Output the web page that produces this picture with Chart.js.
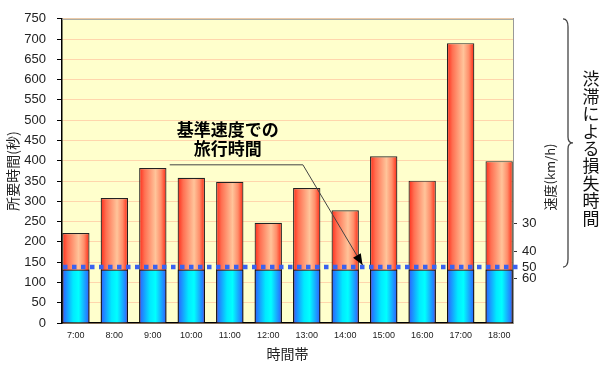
<!DOCTYPE html>
<html>
<head>
<meta charset="utf-8">
<script src="https://cdn.jsdelivr.net/npm/chart.js@4"></script>
<style>
  body { margin: 0; background: #fff; }
  #wrap { width: 602px; height: 372px; position: relative; }
</style>
</head>
<body>
<div id="wrap"><canvas id="travelChart"></canvas></div>
<script>
// time slots and travel times (sec)
const timeLabels = ['7:00', '8:00', '9:00', '10:00', '11:00', '12:00', '13:00', '14:00', '15:00', '16:00', '17:00', '18:00'];
const travelTimes = [222, 308, 382, 358, 348, 247, 333, 278, 411, 351, 690, 399];
const freeFlowTimes = [132, 132, 132, 132, 132, 132, 132, 132, 132, 132, 132, 132];
const baseTime = 138;

// speed axis (km/h) on the right, placed at the matching travel time
const speedLabels = ['30', '40', '50', '60'];
const speedTickTimes = [245, 176, 138, 109];

const CJK = "'Noto Sans CJK JP', sans-serif";
Chart.defaults.font.family = "'Liberation Sans', 'Noto Sans CJK JP', sans-serif";
Chart.defaults.color = '#222';

const redStops = [[0, '#ff2a18'], [0.2, '#ff7052'], [0.6, '#ffc49a'], [0.8, '#ff8e6a'], [1, '#ff2410']];
const blueStops = [[0, '#2d5cff'], [0.4, '#00eaff'], [0.6, '#00ffff'], [1, '#2f5cff']];

function barGradient(ctx, stops) {
  const xs = ctx.chart.scales.x;
  if (!xs || ctx.type !== 'data') return stops[2][1];
  const i = ctx.dataIndex;
  const x0 = xs.getPixelForValue(i - 0.355);
  const x1 = xs.getPixelForValue(i + 0.355);
  if (!isFinite(x0) || !isFinite(x1) || x0 === x1) return stops[2][1];
  const g = ctx.chart.ctx.createLinearGradient(x0, 0, x1, 0);
  stops.forEach(s => g.addColorStop(s[0], s[1]));
  return g;
}

const extras = {
  id: 'extras',
  beforeDraw(chart) {
    const {ctx, chartArea: a} = chart;
    ctx.save();
    ctx.fillStyle = '#ffffcc';
    ctx.fillRect(a.left, a.top, a.right - a.left, a.bottom - a.top);
    ctx.restore();
  },
  afterDatasetsDraw(chart) {
    const {ctx, chartArea: a, scales: {x, y}} = chart;
    ctx.save();
    // top border of plot
    ctx.strokeStyle = '#999';
    ctx.lineWidth = 1;
    ctx.beginPath();
    ctx.moveTo(a.left, a.top + 0.5);
    ctx.lineTo(a.right, a.top + 0.5);
    ctx.stroke();

    // reference travel time (dashed)
    const yb = y.getPixelForValue(baseTime);
    ctx.strokeStyle = '#3a62f0';
    ctx.lineWidth = 4.5;
    ctx.setLineDash([4.5, 4.5]);
    ctx.beginPath();
    ctx.moveTo(a.left + 1, yb);
    ctx.lineTo(a.right + 6, yb);
    ctx.stroke();
    ctx.setLineDash([]);

    // annotation
    ctx.fillStyle = '#000';
    ctx.font = 'bold 17px ' + CJK;
    ctx.textAlign = 'center';
    ctx.textBaseline = 'middle';
    const tx = x.getPixelForValue(3.95);
    ctx.fillText('基準速度での', tx, y.getPixelForValue(476));
    ctx.fillText('旅行時間', tx, y.getPixelForValue(429));

    const p0 = [x.getPixelForValue(2.44), y.getPixelForValue(390)];
    const p1 = [x.getPixelForValue(5.9), y.getPixelForValue(390)];
    const p2 = [x.getPixelForValue(7.45), y.getPixelForValue(143)];
    ctx.strokeStyle = '#444';
    ctx.lineWidth = 1;
    ctx.beginPath();
    ctx.moveTo(p0[0], p0[1]);
    ctx.lineTo(p1[0], p1[1]);
    ctx.lineTo(p2[0], p2[1]);
    ctx.stroke();
    const ang = Math.atan2(p2[1] - p1[1], p2[0] - p1[0]);
    const len = 11, w = 4.5;
    ctx.fillStyle = '#000';
    ctx.beginPath();
    ctx.moveTo(p2[0], p2[1]);
    ctx.lineTo(p2[0] - len * Math.cos(ang) + w * Math.sin(ang), p2[1] - len * Math.sin(ang) - w * Math.cos(ang));
    ctx.lineTo(p2[0] - len * Math.cos(ang) - w * Math.sin(ang), p2[1] - len * Math.sin(ang) + w * Math.cos(ang));
    ctx.closePath();
    ctx.fill();
    ctx.restore();
  },
  afterDraw(chart) {
    const {ctx, scales: {y}} = chart;
    ctx.save();
    // right axis title, reading bottom to top
    ctx.fillStyle = '#222';
    ctx.font = '13px ' + CJK;
    ctx.textAlign = 'center';
    ctx.textBaseline = 'middle';
    ctx.translate(550, 177);
    ctx.rotate(-Math.PI / 2);
    ctx.fillText('速度(km/h)', 0, 0);
    ctx.restore();

    // brace from top of axis to the reference line
    const yt = y.getPixelForValue(750);
    const yb = y.getPixelForValue(baseTime);
    const ym = (yt + yb) / 2;
    const bx = 568;
    ctx.save();
    ctx.strokeStyle = '#444';
    ctx.lineWidth = 1.3;
    ctx.beginPath();
    ctx.moveTo(bx - 5, yt);
    ctx.quadraticCurveTo(bx, yt, bx, yt + 8);
    ctx.lineTo(bx, ym - 6);
    ctx.quadraticCurveTo(bx, ym, bx + 5, ym);
    ctx.quadraticCurveTo(bx, ym, bx, ym + 6);
    ctx.lineTo(bx, yb - 8);
    ctx.quadraticCurveTo(bx, yb, bx - 5, yb);
    ctx.stroke();

    // vertical label
    ctx.fillStyle = '#111';
    ctx.font = '17px ' + CJK;
    ctx.textAlign = 'center';
    ctx.textBaseline = 'middle';
    const txt = '渋滞による損失時間';
    for (let i = 0; i < txt.length; i++) {
      ctx.fillText(txt[i], 591, 79 + i * 17.4);
    }
    ctx.restore();
  }
};

function createTravelChart() {
  const c = document.getElementById('travelChart').getContext('2d');
  return new Chart(c, {
    type: 'bar',
    data: {
      datasets: [{
        label: '基準速度での旅行時間',
        data: freeFlowTimes.map((v, i) => ({x: i, y: v})),
        backgroundColor: (ctx) => barGradient(ctx, blueStops),
        borderColor: '#111',
        borderWidth: 1.2,
        grouped: false,
        order: 0,
        barPercentage: 0.71,
        categoryPercentage: 1
      }, {
        label: '所要時間',
        data: travelTimes.map((v, i) => ({x: i, y: v})),
        backgroundColor: (ctx) => barGradient(ctx, redStops),
        borderColor: '#222',
        borderWidth: 1.2,
        grouped: false,
        order: 1,
        barPercentage: 0.71,
        categoryPercentage: 1
      }]
    },
    options: {
      responsive: true,
      maintainAspectRatio: false,
      animation: false,
      layout: { padding: { top: 8, left: 0, right: 0, bottom: 0 } },
      plugins: {
        legend: { display: false },
        tooltip: { enabled: false }
      },
      scales: {
        x: {
          type: 'linear',
          offset: false,
          min: -0.36,
          max: 11.36,
          afterFit: (s) => { s.height = 49; },
          grid: { display: false, drawTicks: false },
          border: { color: '#000', width: 1.5 },
          ticks: {
            stepSize: 1,
            includeBounds: false,
            autoSkip: false,
            maxRotation: 0,
            padding: 7,
            font: { size: 9 },
            callback: (v) => Number.isInteger(v) ? timeLabels[v] : ''
          },
          title: {
            display: true,
            text: '時間帯',
            font: { size: 14, family: CJK },
            padding: { top: 0, bottom: 10 }
          }
        },
        y: {
          position: 'left',
          min: 0,
          max: 750,
          afterFit: (s) => { s.width = 62; },
          grid: { color: '#ffd6ac', tickColor: '#000', tickLength: 5 },
          border: { color: '#000', width: 1.5 },
          ticks: { stepSize: 50, autoSkip: false, padding: 11, font: { size: 13 } },
          title: {
            display: true,
            text: '所要時間(秒)',
            font: { size: 14, family: CJK },
            padding: { top: 4, bottom: 0 }
          }
        },
        speed: {
          type: 'linear',
          position: 'right',
          min: 0,
          max: 750,
          afterFit: (s) => { s.width = 89; },
          afterBuildTicks: (s) => { s.ticks = speedTickTimes.map(v => ({value: v})); },
          grid: { drawOnChartArea: false, tickColor: '#333', tickLength: 4 },
          border: { color: '#999', width: 1 },
          ticks: {
            autoSkip: false,
            padding: 5,
            font: { size: 13 },
            callback: (v, i) => speedLabels[i]
          }
        }
      }
    },
    plugins: [extras]
  });
}

document.addEventListener('DOMContentLoaded', createTravelChart);
</script>
</body>
</html>
